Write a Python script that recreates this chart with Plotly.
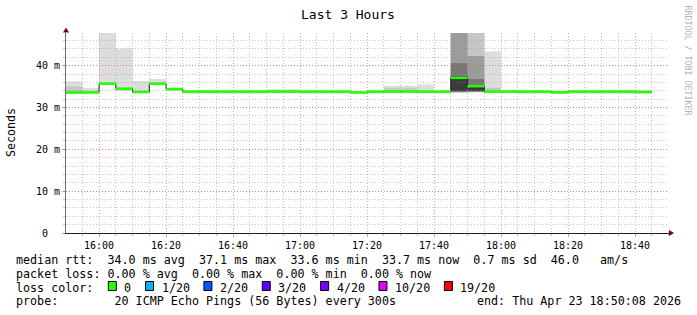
import plotly.graph_objects as go
from datetime import datetime, timedelta

# ---------------- data ----------------
DAY = "2026-04-23"
RANGE_START = "15:50:08"
RANGE_END = "18:50:08"

bin_starts = ["15:50", "15:55", "16:00", "16:05", "16:10", "16:15", "16:20",
              "16:25", "16:30", "16:35", "16:40", "16:45", "16:50", "16:55",
              "17:00", "17:05", "17:10", "17:15", "17:20", "17:25", "17:30",
              "17:35", "17:40", "17:45", "17:50", "17:55", "18:00", "18:05",
              "18:10", "18:15", "18:20", "18:25", "18:30", "18:35", "18:40"]

median_ms = [33.6, 33.6, 35.7, 34.5, 33.7, 35.7, 34.4,
             33.8, 33.8, 33.8, 33.8, 33.8, 33.8, 33.8,
             33.8, 33.8, 33.8, 33.6, 33.8, 33.8, 33.8,
             33.8, 33.8, 37.1, 35.1, 33.8, 33.8, 33.8,
             33.8, 33.6, 33.8, 33.8, 33.8, 33.8, 33.7]

_ = None
# smoke: outermost ping pair band (lightest) ... innermost (darkest)
smoke1_lo = [33.3, 33.3, 35.4, 33.9, 33.5, 35.4, 34.0,
             33.3, 33.3, 33.3, 33.3, 33.3, 33.4, 33.4,
             33.3, 33.3, 33.3, 33.3, 33.3, 33.4, 33.4,
             33.4, 33.3, 33.5, 33.6, 33.5, 33.4, 33.3,
             33.3, 33.3, 33.3, 33.3, 33.3, 33.3, 33.3]
smoke1_hi = [36.2, 34.7, 47.8, 44.1, 36.3, 36.8, 34.6,
             33.9, 33.9, 33.9, 33.9, 33.9, 34.4, 34.4,
             33.9, 33.9, 33.9, 33.8, 33.9, 35.15, 35.15,
             35.5, 34.0, 47.8, 47.8, 43.4, 34.2, 33.9,
             33.9, 33.8, 33.9, 33.9, 34.1, 34.1, 34.1]
smoke2_lo = [33.4, _, _, _, _, _, _, _, _, _, _, _, _, _, _, _, _, _, _,
             33.5, 33.5, _, _, 33.6, 33.7, 33.6, _, _, _, _, _, _, _, _, _]
smoke2_hi = [35.0, _, _, _, _, _, _, _, _, _, _, _, _, _, _, _, _, _, _,
             34.6, 34.6, _, _, 47.8, 47.8, 34.7, _, _, _, _, _, _, _, _, _]
smoke3_lo = [_] * 23 + [33.7, 33.8] + [_] * 10
smoke3_hi = [_] * 23 + [47.8, 42.3] + [_] * 10
smoke4_lo = [_] * 23 + [33.8, 33.85] + [_] * 10
smoke4_hi = [_] * 23 + [40.6, 36.8] + [_] * 10
smoke5_lo = [_] * 23 + [33.9, 33.9] + [_] * 10
smoke5_hi = [_] * 23 + [37.5, 35.0] + [_] * 10

y_tick_vals = [0, 10, 20, 30, 40]
y_tick_text = ["0\u00a0\u00a0", "10 m", "20 m", "30 m", "40 m"]

title_text = "Last 3 Hours"
line_median = "median rtt:  34.0 ms avg  37.1 ms max  33.6 ms min  33.7 ms now  0.7 ms sd  46.0   am/s"
line_loss = "packet loss: 0.00 % avg  0.00 % max  0.00 % min  0.00 % now"
line_lc = "loss color:"
loss_labels = ["0", "1/20", "2/20", "3/20", "4/20", "10/20", "19/20"]
loss_colors = ["#26ff00", "#00b8ff", "#0059ff", "#5e00ff", "#7e00ff", "#dd00ff", "#ff0000"]
line_probe = "probe:        20 ICMP Echo Pings (56 Bytes) every 300s"
line_end = "end: Thu Apr 23 18:50:08 2026"
watermark = "RRDTOOL / TOBI OETIKER"

# ---------------- styling ----------------
FONT = "DejaVu Sans Mono"
GRID = "rgba(150,150,150,0.55)"
MGRID = "rgba(225,80,80,0.55)"
SMOKE_COLORS = ["#dddddd", "#c6c6c6", "#9c9c9c", "#777777", "#3a3a3a"]
PL, PR, PT, PB = 66, 669, 33, 233
W, H = 697, 315
PW, PH = PR - PL, PB - PT
STEP = timedelta(minutes=5)


def t(s):
    fmt = "%Y-%m-%d %H:%M:%S" if s.count(":") == 2 else "%Y-%m-%d %H:%M"
    return datetime.strptime(DAY + " " + s, fmt)


def px(xp):
    return (xp - PL) / PW


def py(yp):
    return (PB - yp) / PH


starts = [t(s) for s in bin_starts]
ends = [s + STEP for s in starts]

shapes = []
levels = [(smoke1_lo, smoke1_hi), (smoke2_lo, smoke2_hi), (smoke3_lo, smoke3_hi),
          (smoke4_lo, smoke4_hi), (smoke5_lo, smoke5_hi)]
for (lo, hi), col in zip(levels, SMOKE_COLORS):
    for x0, x1, a, b in zip(starts, ends, lo, hi):
        if a is None or b is None:
            continue
        shapes.append(dict(type="rect", xref="x", yref="y", x0=x0, x1=x1, y0=a, y1=b,
                           fillcolor=col, line=dict(width=0), layer="below"))

fig = go.Figure()
# black median step line (vertical transitions)
fig.add_trace(go.Scatter(x=starts + [ends[-1]], y=median_ms + [median_ms[-1]],
                         mode="lines", line=dict(color="#202020", width=1, shape="hv"),
                         hoverinfo="skip", showlegend=False))
# green (0 loss) median segments
gx, gy = [], []
for x0, x1, m in zip(starts, ends, median_ms):
    gx += [x0, x1, None]
    gy += [m, m, None]
fig.add_trace(go.Scatter(x=gx, y=gy, mode="lines",
                         line=dict(color=loss_colors[0], width=2.6),
                         hoverinfo="skip", showlegend=False, connectgaps=False))

# arrows
shapes.append(dict(type="path", xref="paper", yref="paper", xsizemode="pixel", ysizemode="pixel",
                   xanchor=0, yanchor=1, path="M -3,0.5 L 3,0.5 L 0,5.5 Z",
                   fillcolor="#7f0000", line=dict(width=0), layer="above"))
shapes.append(dict(type="path", xref="paper", yref="paper", xsizemode="pixel", ysizemode="pixel",
                   xanchor=1, yanchor=0, path="M 0,-3 L 0,3 L 5,0 Z",
                   fillcolor="#7f0000", line=dict(width=0), layer="above"))

annotations = []


def text(s, x, y, size=11.7, xanchor="left", color="#000000", angle=0):
    annotations.append(dict(text=s, x=px(x), y=py(y), xref="paper", yref="paper",
                            xanchor=xanchor, yanchor="middle", showarrow=False,
                            textangle=angle, borderpad=0,
                            font=dict(family=FONT, size=size, color=color)))


text(title_text, 348, 14, size=13, xanchor="center")
text("Seconds", 11, 133, size=11.6, xanchor="center", angle=-90)
text(watermark, 687.5, 60, size=8.3, xanchor="center", color="#b4b4b4", angle=90)
text(line_median, 15, 260)
text(line_loss, 15, 273.5)
text(line_lc, 15, 287.5)
text(line_probe, 15, 301)
text(line_end, 682, 301, xanchor="right")

CH = 7.04
sx = 108.3
for lab, col in zip(loss_labels, loss_colors):
    shapes.append(dict(type="rect", xref="paper", yref="paper", x0=px(sx), x1=px(sx + 8),
                       y0=py(290.5), y1=py(281.5), fillcolor=col,
                       line=dict(color="#000000", width=1), layer="above"))
    text(lab, sx + 15, 287.5)
    sx = sx + 15.7 + len(lab) * CH + 14.5

fig.update_layout(
    width=W, height=H, autosize=False,
    margin=dict(l=PL, r=W - PR, t=PT, b=H - PB, pad=0),
    paper_bgcolor="#ffffff", plot_bgcolor="#ffffff",
    shapes=shapes, annotations=annotations, showlegend=False,
    xaxis=dict(type="date", range=[t(RANGE_START), t(RANGE_END)],
               tickformat="%H:%M", dtick=20 * 60 * 1000, tick0=t("16:00"),
               showgrid=True, gridcolor=MGRID, griddash="1px,2px", gridwidth=1,
               ticks="outside", ticklen=3, tickcolor=MGRID,
               tickfont=dict(family=FONT, size=10, color="#000000"),
               minor=dict(dtick=5 * 60 * 1000, tick0=t("16:00"), showgrid=True,
                          gridcolor=GRID, griddash="1px,2px", ticks="outside",
                          ticklen=2, tickcolor=GRID),
               showline=True, linecolor="#202020", linewidth=1,
               zeroline=False, fixedrange=True),
    yaxis=dict(range=[0, 47.8], tickvals=y_tick_vals, ticktext=y_tick_text,
               showgrid=True, gridcolor=MGRID, griddash="1px,2px", gridwidth=1,
               ticks="outside", ticklen=3, tickcolor=MGRID,
               tickfont=dict(family=FONT, size=10, color="#000000"),
               minor=dict(dtick=2, showgrid=True, gridcolor=GRID, griddash="1px,2px",
                          ticks="outside", ticklen=2, tickcolor=GRID),
               showline=True, linecolor="#707070", linewidth=1,
               zeroline=False, fixedrange=True),
)

fig.write_html("out.html", config=dict(displayModeBar=False))
